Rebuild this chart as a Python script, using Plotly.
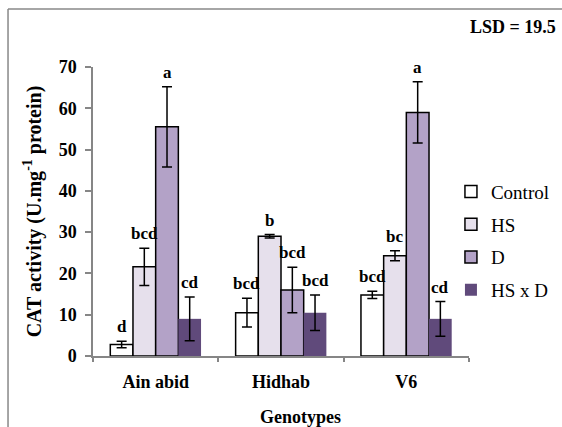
import plotly.graph_objects as go

# CAT activity per genotype and treatment (means, error bars, significance letters)
genotypes = ["Ain abid", "Hidhab", "V6"]
treatments = ["Control", "HS", "D", "HS x D"]
means = {
    "Control": [2.8, 10.5, 14.8],
    "HS": [21.6, 29.0, 24.3],
    "D": [55.5, 16.0, 59.0],
    "HS x D": [9.0, 10.5, 9.0],
}
errors = {
    "Control": [0.8, 3.5, 0.9],
    "HS": [4.5, 0.4, 1.2],
    "D": [9.7, 5.5, 7.4],
    "HS x D": [5.3, 4.3, 4.2],
}
letters = {
    "Control": ["d", "bcd", "bcd"],
    "HS": ["bcd", "b", "bc"],
    "D": ["a", "bcd", "a"],
    "HS x D": ["cd", "bcd", "cd"],
}
y_ticks = [0, 10, 20, 30, 40, 50, 60, 70]
lsd_text = "LSD = 19.5"

fills = {"Control": "#ffffff", "HS": "#e6e0ec", "D": "#b3a2c7", "HS x D": "#604a7b"}
outline = {"Control": 1.5, "HS": 1.5, "D": 1.5, "HS x D": 0}

SERIF = "'Liberation Serif', 'Times New Roman', 'DejaVu Serif', serif"
AXIS_GREY = "#868686"
BARGAP = 0.276

fig = go.Figure()
for t in treatments:
    fig.add_trace(go.Bar(
        name=t, x=genotypes, y=means[t],
        marker=dict(color=fills[t], line=dict(color="#000000", width=outline[t])),
        error_y=dict(type="data", array=errors[t], color="#000000", thickness=1.5, width=5),
        legendgroup=t,
    ))

# significance letters above each error bar
n = len(treatments)
w = (1 - BARGAP) / n
annotations = []
for i, t in enumerate(treatments):
    for j, g in enumerate(genotypes):
        annotations.append(dict(
            x=j + (i - (n - 1) / 2) * w, y=means[t][j] + errors[t][j],
            xref="x", yref="y", text=f"<b>{letters[t][j]}</b>", showarrow=False,
            yanchor="bottom", yshift=3, font=dict(family=SERIF, size=17, color="#000"),
        ))

annotations += [
    dict(x=-0.16, y=0.50, xref="paper", yref="paper", textangle=-90,
         xanchor="center", yanchor="middle",
         text="<b>CAT activity (U.mg<sup>-1</sup> protein)</b>", showarrow=False,
         font=dict(family=SERIF, size=20, color="#000")),
    dict(x=0.551, y=-0.212, xref="paper", yref="paper", text="<b>Genotypes</b>",
         xanchor="center", yanchor="middle",
         showarrow=False, font=dict(family=SERIF, size=18, color="#000")),
    dict(x=1.2376, y=1.138, xref="paper", yref="paper", text=f"<b>{lsd_text}</b>",
         xanchor="right", yanchor="middle", showarrow=False,
         font=dict(family=SERIF, size=18, color="#000")),
]

# outer frame: only its left and top edges fall inside the canvas
frame = [
    dict(type="line", xref="paper", yref="paper", x0=-0.226, x1=-0.226, y0=-0.5, y1=1.2007,
         line=dict(color="#888888", width=1.5)),
    dict(type="line", xref="paper", yref="paper", x0=-0.226, x1=1.5, y0=1.2007, y1=1.2007,
         line=dict(color="#888888", width=1.5)),
]

fig.update_layout(
    width=562, height=427,
    margin=dict(l=93, r=93, t=67, b=71, autoexpand=False),
    paper_bgcolor="#ffffff", plot_bgcolor="#ffffff",
    barmode="group", bargap=BARGAP, bargroupgap=0,
    showlegend=True,
    legend=dict(x=0.952, y=0.634, xanchor="left", yanchor="top",
                font=dict(family=SERIF, size=19, color="#000"),
                tracegroupgap=5, bgcolor="rgba(0,0,0,0)"),
    annotations=annotations,
    shapes=frame,
)
fig.update_xaxes(
    type="category", showline=True, linecolor=AXIS_GREY, linewidth=1.5,
    ticks="outside", tickson="boundaries", ticklen=4, tickcolor=AXIS_GREY, tickwidth=1.5,
    tickvals=genotypes, ticktext=[f"<b>{g}</b>" for g in genotypes],
    tickfont=dict(family=SERIF, size=18, color="#000"), ticklabelstandoff=9,
    showgrid=False, zeroline=False,
)
fig.update_yaxes(
    range=[0, 70], tickvals=y_ticks, ticktext=[f"<b>{v}</b>" for v in y_ticks],
    showline=True, linecolor=AXIS_GREY, linewidth=1.5,
    ticks="outside", ticklen=6, tickcolor=AXIS_GREY, tickwidth=1.5,
    tickfont=dict(family=SERIF, size=18, color="#000"), ticklabelstandoff=5,
    showgrid=False, zeroline=False,
)

fig.write_html("out.html")
